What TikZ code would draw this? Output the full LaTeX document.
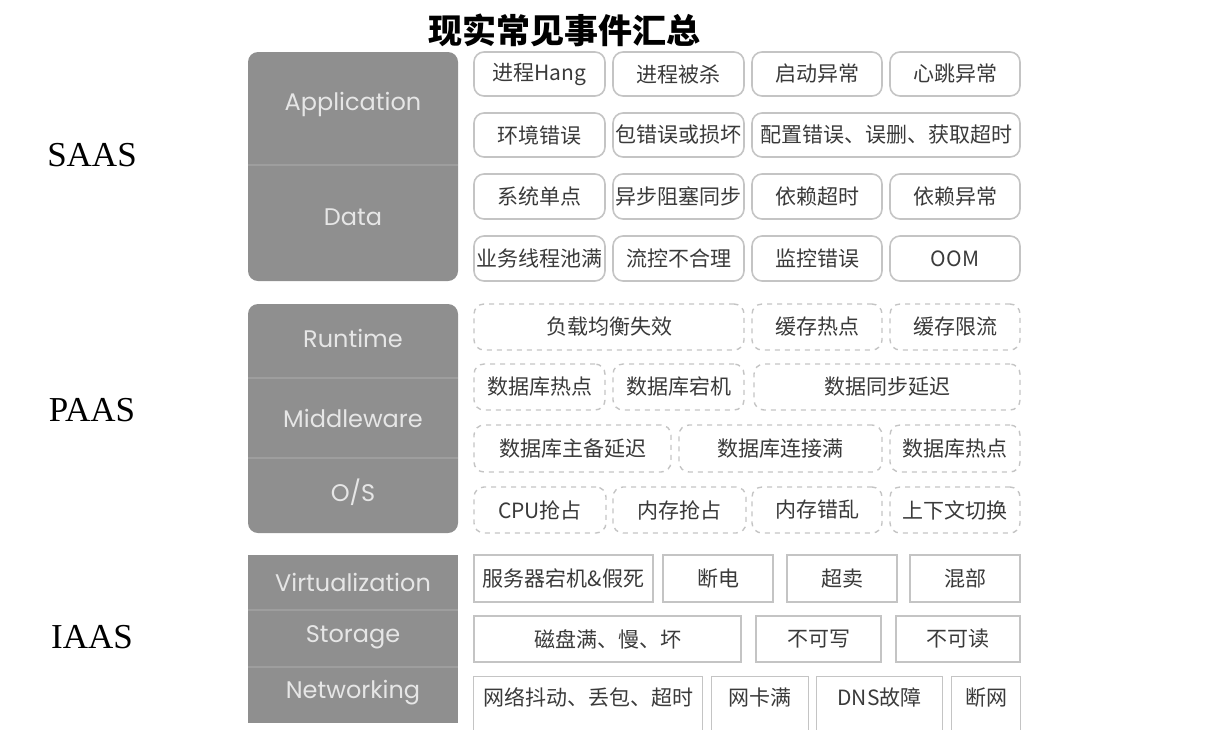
\documentclass[tikz,border=0pt]{standalone}
\usepackage{fontspec}
\setmainfont{Liberation Serif}
\newfontfamily\cjk{Noto Sans CJK SC}
\newfontfamily\layerfont{Poppins}
\usepackage{tikz}
\usetikzlibrary{positioning}
\usepackage{xcolor}
\definecolor{layergray}{RGB}{143,143,143}
\definecolor{layerline}{RGB}{158,158,158}
\definecolor{layertext}{RGB}{230,230,230}
\definecolor{boxline}{RGB}{196,196,196}
\definecolor{boxtext}{RGB}{58,58,58}

\tikzset{
  evt/.style={inner sep=0pt, font=\cjk\fontsize{10.5}{12}\selectfont, text=boxtext},
  sbox/.style={evt, draw=boxline, line width=0.8pt, rounded corners=5pt},
  pbox/.style={evt, draw=boxline, line width=0.7pt, dash pattern=on 2.5pt off 2.5pt, rounded corners=5pt},
  ibox/.style={evt, draw=boxline, line width=0.8pt},
  iline/.style={draw=boxline, line width=0.8pt},
  layerlbl/.style={font=\layerfont\fontsize{12}{14}\selectfont, text=layertext},
  divider/.style={layerline, line width=0.8pt},
  tier/.style={font=\fontsize{17.5}{20}\selectfont},
}

\begin{document}
\begin{tikzpicture}[x=0.5pt,y=-0.5pt]
    \useasboundingbox (0,0) rectangle (1208,729);
    \clip (0,0) rectangle (1208,729);
    % title and tiers
    \node[font=\cjk\bfseries\fontsize{17}{20}\selectfont] (title) at (564,30) {现实常见事件汇总};
    \node[tier] (saas) at (92,155) {SAAS};
    \node[tier] (paas) at (92,410) {PAAS};
    \node[tier] (iaas) at (92,637) {IAAS};

    % gray layer blocks
    \fill[layergray, rounded corners=5pt] (248,52) rectangle (458,281);
    \draw[divider] (248,165) -- (458,165);
    \node[layerlbl] (app) at (353,104) {Application};
    \node[layerlbl] (data) at (353,217) {Data};

    \fill[layergray, rounded corners=5pt] (248,304) rectangle (458,533);
    \draw[divider] (248,378) -- (458,378);
    \draw[divider] (248,458) -- (458,458);
    \node[layerlbl] (rt) at (353,338) {Runtime};
    \node[layerlbl] (mw) at (353,418) {Middleware};
    \node[layerlbl] (os) at (353,492) {O/S};

    \fill[layergray] (248,555) rectangle (458,723);
    \draw[divider] (248,610) -- (458,610);
    \draw[divider] (248,667) -- (458,667);
    \node[layerlbl] (virt) at (353,582) {Virtualization};
    \node[layerlbl] (stor) at (353,637) {Storage};
    \node[layerlbl] (net) at (353,693) {Networking};

    % SAAS events
    \node[sbox, minimum width=65.5pt, minimum height=22pt] (s11) at (539.5,74) {进程Hang};
    \node[sbox, minimum width=65.5pt, minimum height=22pt] (s12) at (678.5,74) {进程被杀};
    \node[sbox, minimum width=65pt, minimum height=22pt] (s13) at (817,74) {启动异常};
    \node[sbox, minimum width=65pt, minimum height=22pt] (s14) at (955,74) {心跳异常};
    \node[sbox, minimum width=65.5pt, minimum height=22pt] (s21) at (539.5,135) {环境错误};
    \node[sbox, minimum width=65.5pt, minimum height=22pt] (s22) at (678.5,135) {包错误或损坏};
    \node[sbox, minimum width=134pt, minimum height=22pt] (s23) at (886,135) {配置错误、误删、获取超时};
    \node[sbox, minimum width=65.5pt, minimum height=22.5pt] (s31) at (539.5,196.5) {系统单点};
    \node[sbox, minimum width=65.5pt, minimum height=22.5pt] (s32) at (678.5,196.5) {异步阻塞同步};
    \node[sbox, minimum width=65pt, minimum height=22.5pt] (s33) at (817,196.5) {依赖超时};
    \node[sbox, minimum width=65pt, minimum height=22.5pt] (s34) at (955,196.5) {依赖异常};
    \node[sbox, minimum width=65.5pt, minimum height=22.5pt] (s41) at (539.5,258.5) {业务线程池满};
    \node[sbox, minimum width=65.5pt, minimum height=22.5pt] (s42) at (678.5,258.5) {流控不合理};
    \node[sbox, minimum width=65pt, minimum height=22.5pt] (s43) at (817,258.5) {监控错误};
    \node[sbox, minimum width=65pt, minimum height=22.5pt] (s44) at (955,258.5) {OOM};

    % PAAS events
    \node[pbox, minimum width=135pt, minimum height=23pt] (p11) at (609,327) {负载均衡失效};
    \node[pbox, minimum width=65pt, minimum height=23pt] (p12) at (817,327) {缓存热点};
    \node[pbox, minimum width=65pt, minimum height=23pt] (p13) at (955,327) {缓存限流};
    \node[pbox, minimum width=65.5pt, minimum height=23pt] (p21) at (539.5,387) {数据库热点};
    \node[pbox, minimum width=65.5pt, minimum height=23pt] (p22) at (678.5,387) {数据库宕机};
    \node[pbox, minimum width=133pt, minimum height=23pt] (p23) at (887,387) {数据同步延迟};
    \node[pbox, minimum width=98.5pt, minimum height=23.5pt] (p31) at (572.5,448.5) {数据库主备延迟};
    \node[pbox, minimum width=101.5pt, minimum height=23.5pt] (p32) at (780.5,448.5) {数据库连接满};
    \node[pbox, minimum width=65pt, minimum height=23.5pt] (p33) at (955,448.5) {数据库热点};
    \node[pbox, minimum width=66pt, minimum height=23pt] (p41) at (540,510) {CPU抢占};
    \node[pbox, minimum width=66.5pt, minimum height=23pt] (p42) at (679.5,510) {内存抢占};
    \node[pbox, minimum width=65pt, minimum height=23pt] (p43) at (817,510) {内存错乱};
    \node[pbox, minimum width=65pt, minimum height=23pt] (p44) at (955,510) {上下文切换};

    % IAAS events
    \node[ibox, minimum width=89.5pt, minimum height=23.5pt] (i11) at (563.5,578.5) {服务器宕机\&假死};
    \node[ibox, minimum width=55pt, minimum height=23.5pt] (i12) at (718,578.5) {断电};
    \node[ibox, minimum width=55pt, minimum height=23.5pt] (i13) at (842,578.5) {超卖};
    \node[ibox, minimum width=55pt, minimum height=23.5pt] (i14) at (965,578.5) {混部};
    \node[ibox, minimum width=133.5pt, minimum height=23pt] (i21) at (607.5,639) {磁盘满、慢、坏};
    \node[ibox, minimum width=62.5pt, minimum height=23pt] (i22) at (818.5,639) {不可写};
    \node[ibox, minimum width=62pt, minimum height=23pt] (i23) at (958,639) {不可读};
    % last row runs off the bottom edge
    \node[evt, minimum width=114pt, minimum height=20.5pt] (i31) at (588,697.5) {网络抖动、丢包、超时};
    \node[evt, minimum width=48pt, minimum height=20.5pt] (i32) at (760,697.5) {网卡满};
    \node[evt, minimum width=62.5pt, minimum height=20.5pt] (i33) at (879.5,697.5) {DNS故障};
    \node[evt, minimum width=34pt, minimum height=20.5pt] (i34) at (986,697.5) {断网};
    \draw[iline] (i31.north west) rectangle ([yshift=-12pt]i31.south east);
    \draw[iline] (i32.north west) rectangle ([yshift=-12pt]i32.south east);
    \draw[iline] (i33.north west) rectangle ([yshift=-12pt]i33.south east);
    \draw[iline] (i34.north west) rectangle ([yshift=-12pt]i34.south east);
\end{tikzpicture}
\end{document}
